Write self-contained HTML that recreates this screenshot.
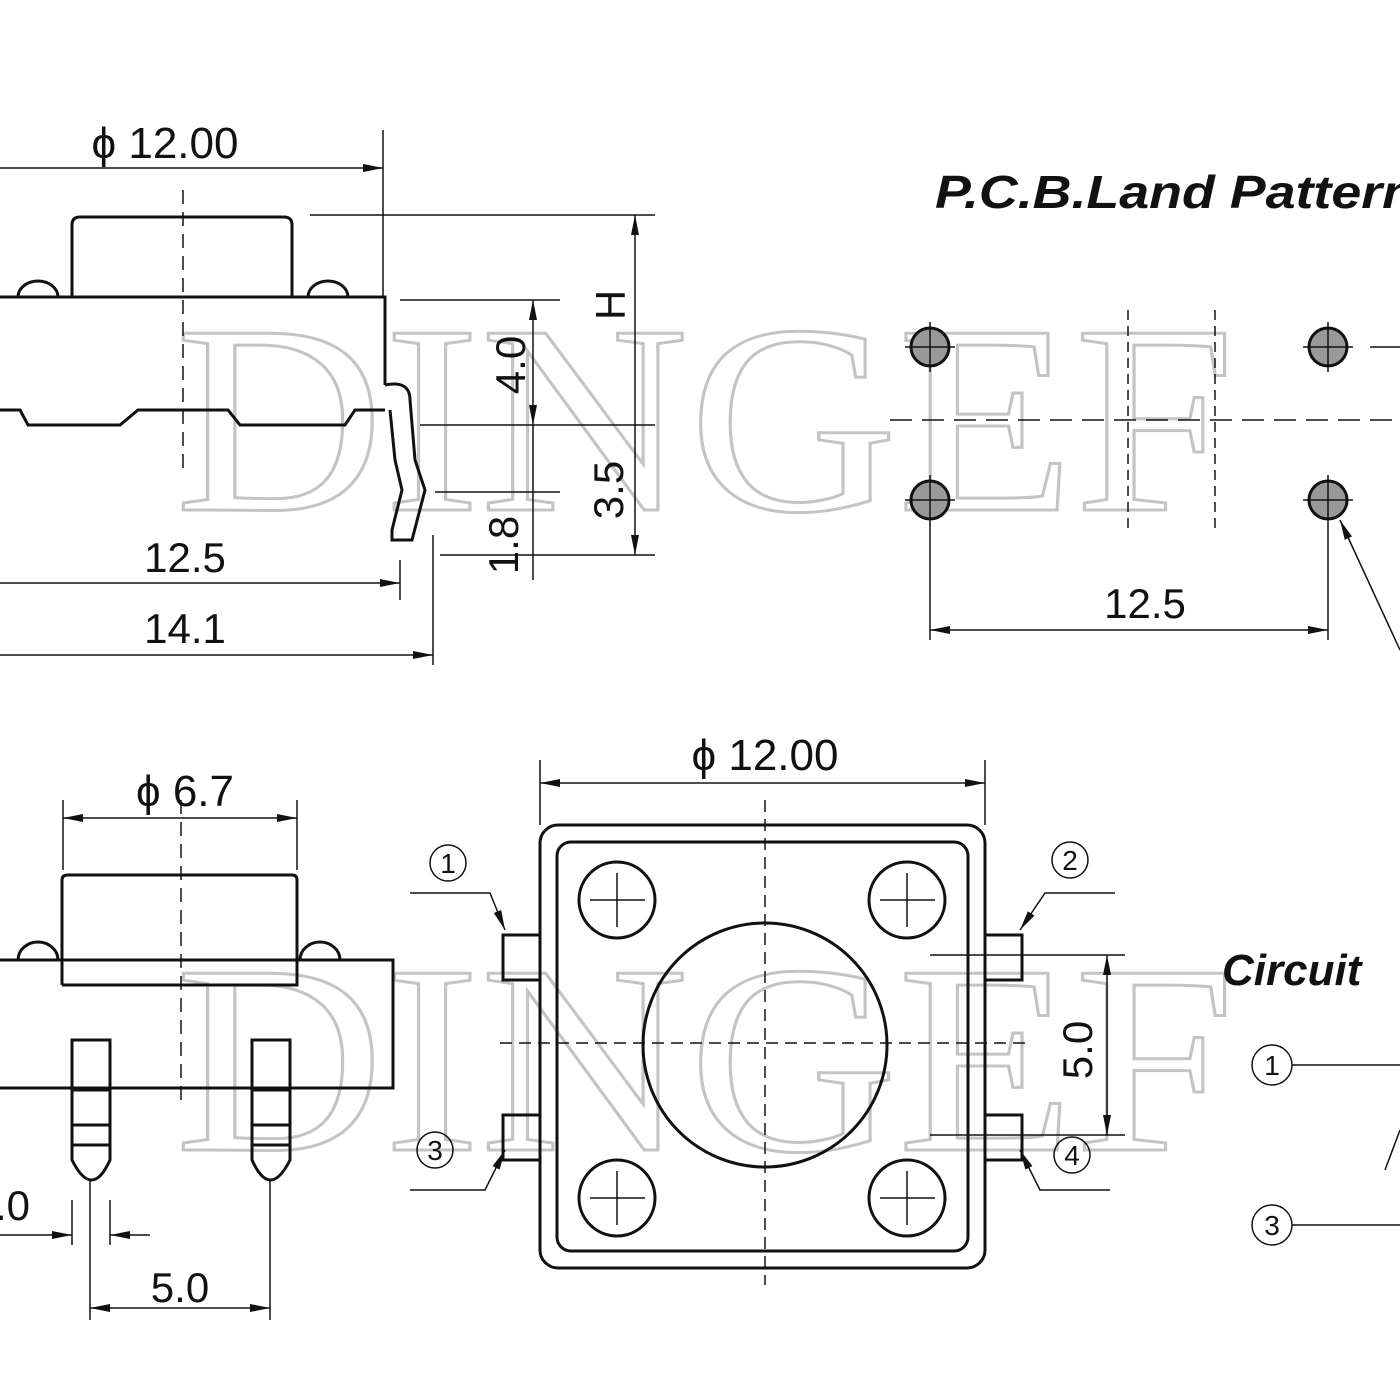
<!DOCTYPE html>
<html><head><meta charset="utf-8"><style>
html,body{margin:0;padding:0;background:#fff;}
svg{display:block;}
text{font-family:"Liberation Sans",sans-serif;fill:#111;}
</style></head><body>
<svg width="1400" height="1400" viewBox="0 0 1400 1400" xmlns="http://www.w3.org/2000/svg">
<defs>
<marker id="a" viewBox="0 0 20 10" refX="20" refY="5" markerWidth="20" markerHeight="10" orient="auto-start-reverse" markerUnits="userSpaceOnUse"><path d="M0,1 L20,5 L0,9 z" fill="#111"/></marker>
</defs>
<!-- watermark -->
<g>
<text x="175" y="510" font-size="270" style="font-family:'Liberation Serif',serif;fill:#fff;stroke:#c4c4c4;stroke-width:3" textLength="1060" lengthAdjust="spacingAndGlyphs">DINGEF</text>
<text x="175" y="1150" font-size="270" style="font-family:'Liberation Serif',serif;fill:#fff;stroke:#c4c4c4;stroke-width:3" textLength="1060" lengthAdjust="spacingAndGlyphs">DINGEF</text>
</g>
<g fill="none" stroke="#111" stroke-width="3">
<path d="M72,297 V225 Q72,217 80,217 H284 Q292,217 292,225 V297"/>
<path d="M18,297 A20,16 0 0 1 58,297 M308,297 A20,16 0 0 1 348,297"/>
<path d="M0,297 H385 V385"/>
<path d="M0,410 H20 L28,425 H120 L138,410 H228 L240,425 H345 L355,410 H385"/>
<path d="M385,385 Q410,380 410,400 L415,460 L425,490 L412,540 H392 V530 L402,490 L395,460 L390,410"/>
</g>
<g fill="none" stroke="#111" stroke-width="1.5">
<path d="M383,130 V297 M310,215 H655 M400,300 H560 M420,425 H655 M435,492 H560 M440,555 H655 M400,560 V600 M433,535 V665"/>
<path d="M183,190 V470" stroke-dasharray="14,8"/>
<path d="M0,168 H383" marker-end="url(#a)"/>
<path d="M635,215 V555" marker-start="url(#a)" marker-end="url(#a)"/>
<path d="M533,300 V425" marker-start="url(#a)" marker-end="url(#a)"/>
<path d="M533,492 V580 M533,425 V492" />
<path d="M0,583 H400" marker-end="url(#a)"/>
<path d="M0,655 H433" marker-end="url(#a)"/>
</g>
<text x="165" y="158" font-size="44" text-anchor="middle">ϕ 12.00</text>
<text x="185" y="572" font-size="42" text-anchor="middle">12.5</text>
<text x="185" y="643" font-size="42" text-anchor="middle">14.1</text>
<text font-size="42" transform="translate(625,305) rotate(-90)" text-anchor="middle">H</text>
<text font-size="42" transform="translate(525,365) rotate(-90)" text-anchor="middle">4.0</text>
<text font-size="42" transform="translate(623,490) rotate(-90)" text-anchor="middle">3.5</text>
<text font-size="42" transform="translate(518,545) rotate(-90)" text-anchor="middle">1.8</text>

<text x="935" y="208" font-size="46" font-weight="bold" font-style="italic" textLength="480" lengthAdjust="spacingAndGlyphs">P.C.B.Land Pattern</text>
<g stroke="#111" stroke-width="3" fill="#999">
<circle cx="930" cy="347" r="19"/><circle cx="1328" cy="347" r="19"/>
<circle cx="930" cy="500" r="19"/><circle cx="1328" cy="500" r="19"/>
</g>
<g fill="none" stroke="#111" stroke-width="1.5">
<path d="M890,420 H1400" stroke-dasharray="22,10"/>
<path d="M1128,310 V530 M1215,310 V530" stroke-dasharray="10,6"/>
<path d="M905,347 H955 M930,322 V372 M1303,347 H1353 M1328,322 V372 M905,500 H955 M930,475 V525 M1303,500 H1353 M1328,475 V525 M1370,347 H1400"/>
<path d="M930,525 V640 M1328,525 V640"/>
<path d="M930,630 H1328" marker-start="url(#a)" marker-end="url(#a)"/>
<path d="M1400,650 L1340,520" marker-end="url(#a)"/>
</g>
<text x="1145" y="618" font-size="42" text-anchor="middle">12.5</text>

<g fill="none" stroke="#111" stroke-width="3">
<path d="M62,985 V880 Q62,875 68,875 H292 Q297,875 297,880 V985 H62"/>
<path d="M18,960 A20,18 0 0 1 58,960 M300,960 A20,18 0 0 1 340,960"/>
<path d="M0,960 H393 V1088 H0"/>
<path d="M72,1040 H110 V1160 Q92,1200 72,1160 Z M252,1040 H290 V1160 Q270,1200 252,1160 Z"/>
<path d="M72,1090 H110 M72,1125 H110 M72,1145 H110 M252,1090 H290 M252,1125 H290 M252,1145 H290"/>
</g>
<g fill="none" stroke="#111" stroke-width="1.5">
<path d="M63,800 V870 M297,800 V870 M90,1180 V1320 M270,1180 V1320 M72,1200 V1245 M110,1200 V1245"/>
<path d="M181,800 V1100" stroke-dasharray="14,8"/>
<path d="M63,818 H297" marker-start="url(#a)" marker-end="url(#a)"/>
<path d="M90,1308 H270" marker-start="url(#a)" marker-end="url(#a)"/>
<path d="M0,1235 H72" marker-end="url(#a)"/><path d="M150,1235 H110" marker-end="url(#a)"/>
</g>
<text x="185" y="806" font-size="44" text-anchor="middle">ϕ 6.7</text>
<text x="180" y="1302" font-size="42" text-anchor="middle">5.0</text>
<text x="-5" y="1220" font-size="42">.0</text>

<g fill="none" stroke="#111" stroke-width="3">
<rect x="540" y="825" width="445" height="443" rx="18"/>
<rect x="557" y="842" width="411" height="409" rx="14"/>
<circle cx="617" cy="900" r="38"/><circle cx="907" cy="900" r="38"/>
<circle cx="617" cy="1198" r="38"/><circle cx="907" cy="1198" r="38"/>
<circle cx="765" cy="1045" r="122"/>
<rect x="503" y="935" width="37" height="45"/><rect x="985" y="935" width="37" height="45"/>
<rect x="503" y="1115" width="37" height="45"/><rect x="985" y="1115" width="37" height="45"/>
</g>
<g fill="none" stroke="#111" stroke-width="1.5">
<path d="M540,760 V825 M985,760 V825"/>
<path d="M540,783 H985" marker-start="url(#a)" marker-end="url(#a)"/>
<path d="M765,800 V1285 M500,1043 H1030" stroke-dasharray="12,7"/>
<path d="M930,955 H1125 M930,1135 H1125"/>
<path d="M1107,955 V1135" marker-start="url(#a)" marker-end="url(#a)"/>
<path d="M410,893 H490 L505,930" marker-end="url(#a)"/>
<path d="M1115,893 H1045 L1020,930" marker-end="url(#a)"/>
<path d="M410,1190 H485 L505,1150" marker-end="url(#a)"/>
<path d="M1110,1190 H1040 L1020,1150" marker-end="url(#a)"/>
<path d="M590,900 H645 M617,873 V927 M880,900 H935 M907,873 V927 M590,1198 H645 M617,1171 V1225 M880,1198 H935 M907,1171 V1225"/>
<circle cx="448" cy="863" r="18"/><circle cx="1070" cy="860" r="18"/>
<circle cx="435" cy="1150" r="18"/><circle cx="1072" cy="1155" r="18"/>
</g>
<g font-size="28" text-anchor="middle">
<text x="448" y="873">1</text><text x="1070" y="870">2</text>
<text x="435" y="1160">3</text><text x="1072" y="1165">4</text>
</g>
<text x="765" y="770" font-size="44" text-anchor="middle">ϕ 12.00</text>
<text font-size="42" transform="translate(1092,1050) rotate(-90)" text-anchor="middle">5.0</text>

<text x="1222" y="985" font-size="44" font-weight="bold" font-style="italic">Circuit</text>
<g fill="none" stroke="#111" stroke-width="1.5">
<circle cx="1272" cy="1065" r="20"/><circle cx="1272" cy="1225" r="20"/>
<path d="M1292,1065 H1400 M1292,1225 H1400 M1385,1170 L1400,1130"/>
</g>
<text x="1272" y="1075" font-size="28" text-anchor="middle">1</text>
<text x="1272" y="1235" font-size="28" text-anchor="middle">3</text>
</svg>
</body></html>
